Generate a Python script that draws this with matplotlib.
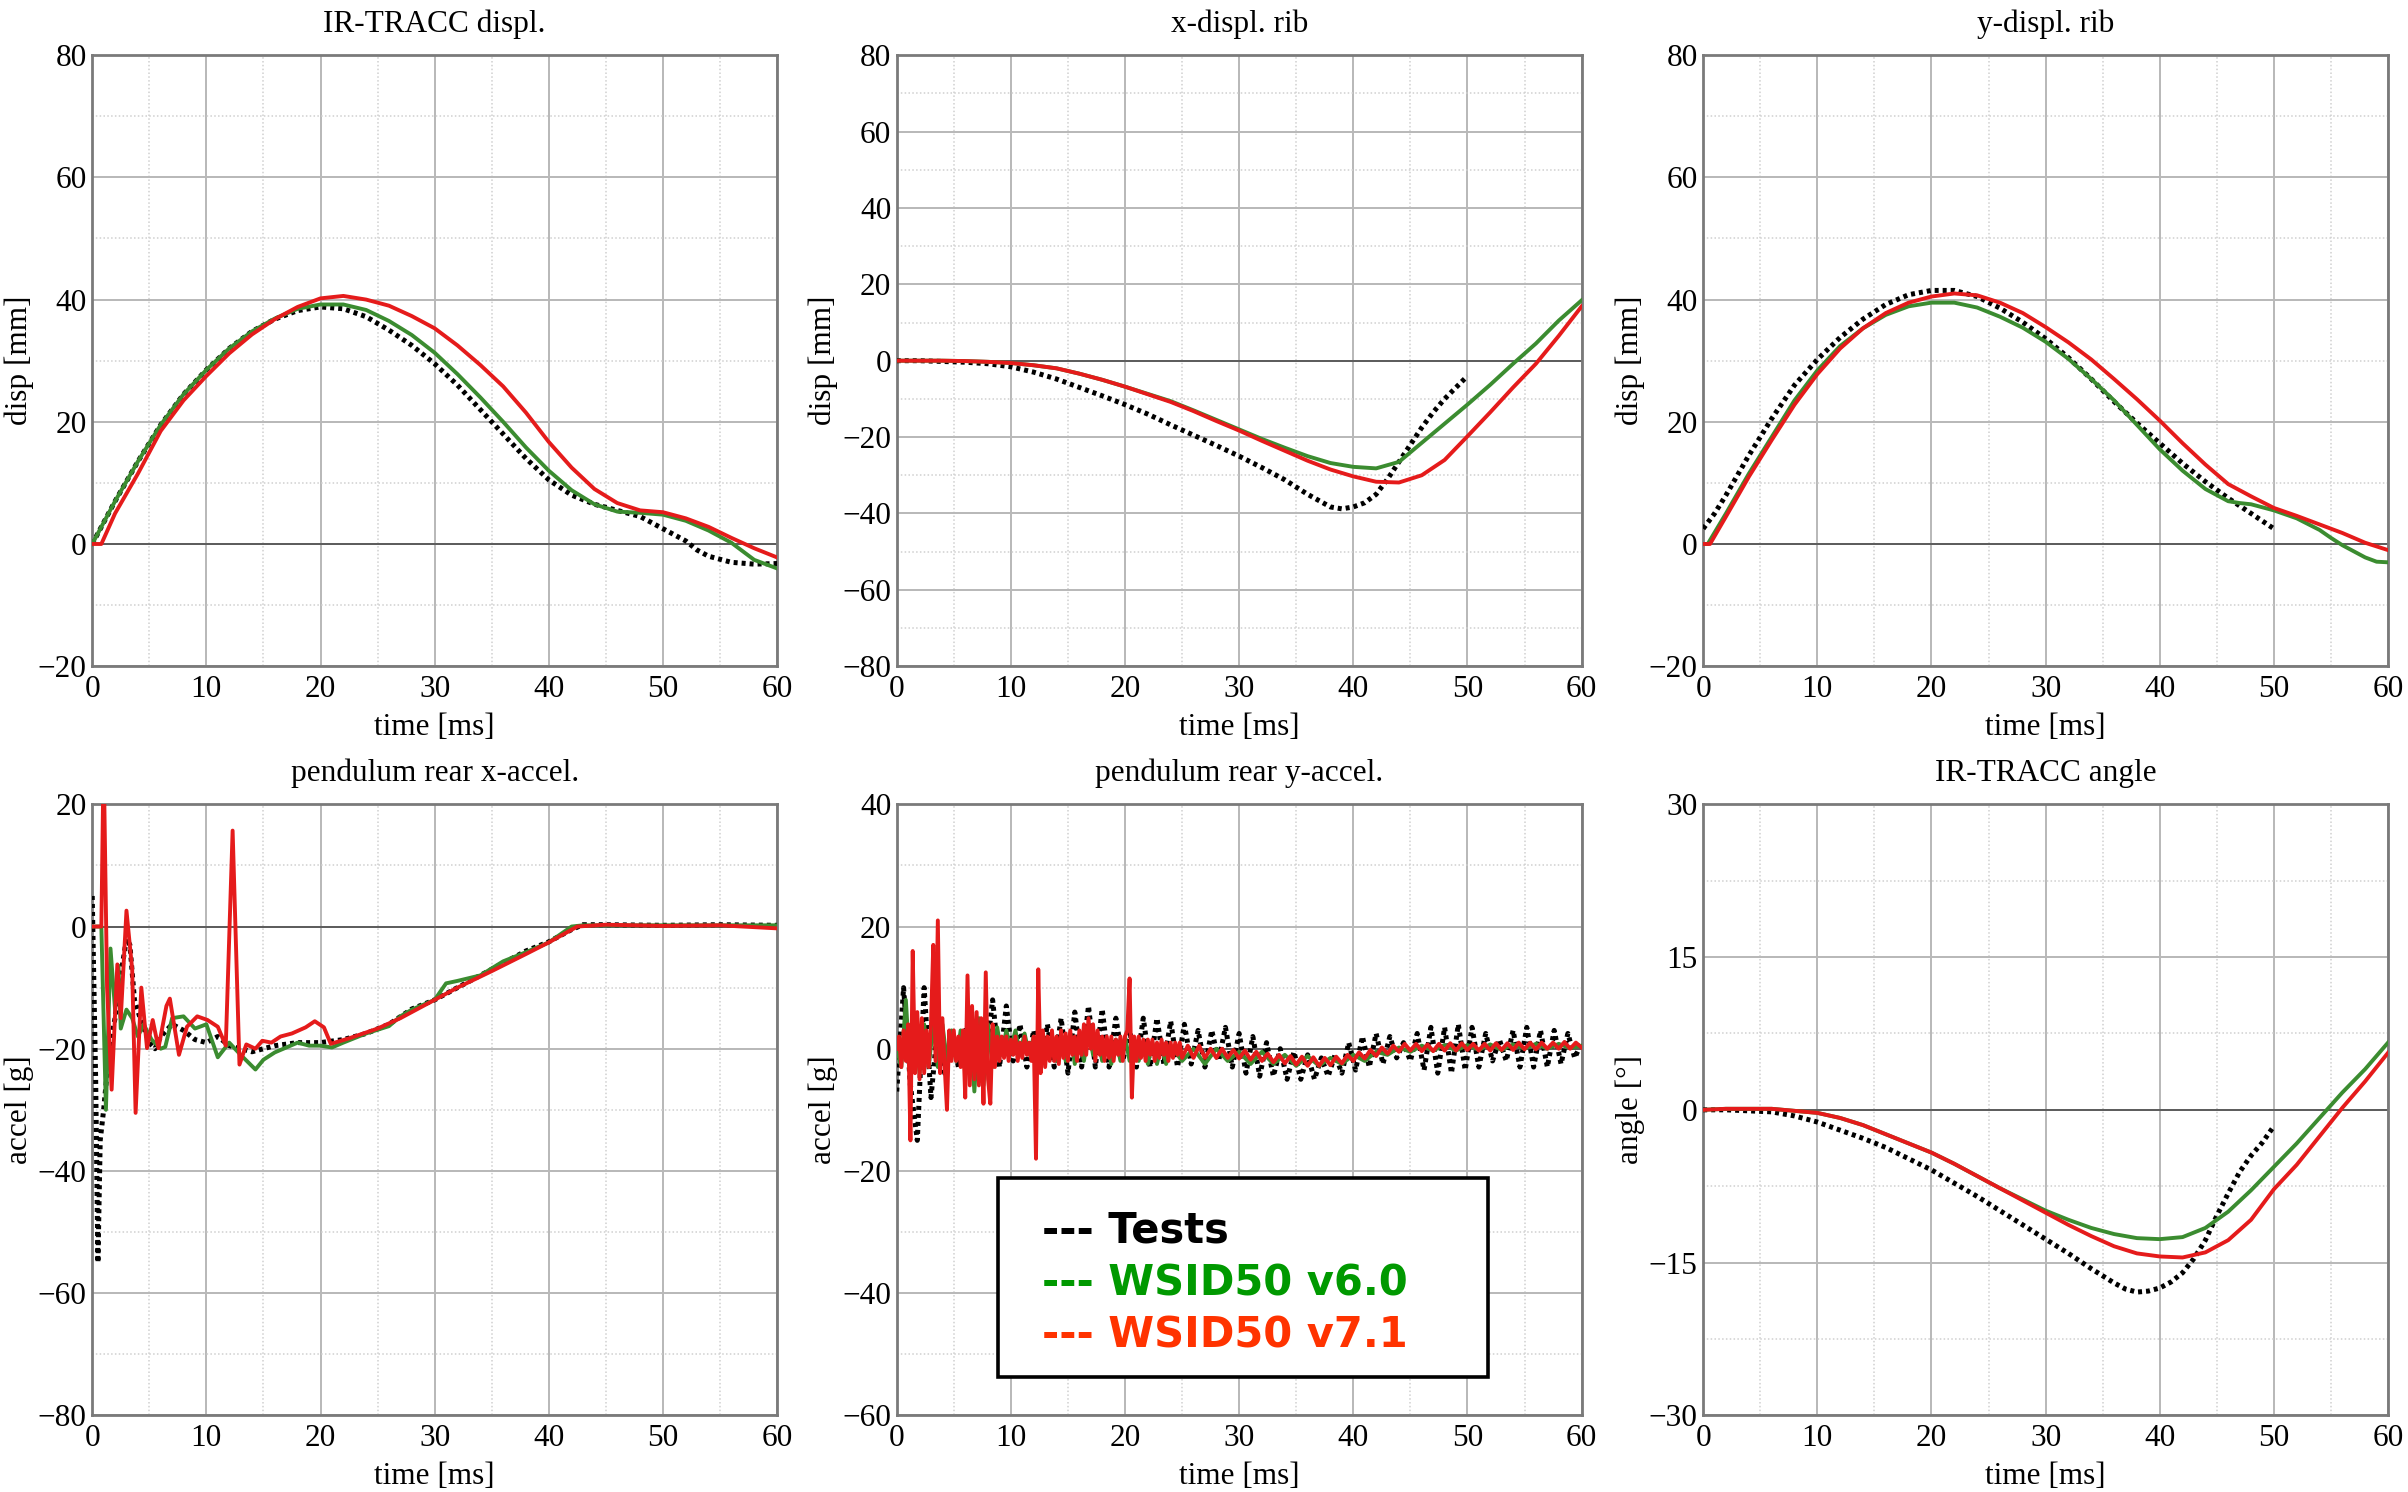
import numpy as np
import matplotlib
matplotlib.use("Agg")
import matplotlib.pyplot as plt
from matplotlib.patches import Rectangle
from matplotlib.ticker import MultipleLocator

plt.rcParams['font.family'] = ['Liberation Serif', 'DejaVu Serif']

#############################################################################
# Data
#############################################################################

# IR-TRACC displ. [mm]
disp_t_test = [0, 1, 2, 4, 6, 8, 10, 12, 14, 16, 18, 20, 22, 24, 26, 28, 30, 32, 34, 36,
               38, 40, 42, 44, 46, 48, 50, 52, 53, 54, 56, 58, 60]
disp_test = [0, 3.5, 7, 13.5, 19.5, 24.5, 28.5, 32, 34.8, 36.8, 38.2, 38.8, 38.5, 37.2, 35,
             32.5, 29.5, 26, 22, 18, 14, 10.5, 8, 6.5, 5.5, 4.5, 2.5, 0.5, -1, -2, -3,
             -3.3, -3.2]
disp_v6 = [0, 3.5, 7, 13.5, 19.5, 24.5, 28.5, 32, 34.8, 36.9, 38.5, 39.2, 39.2, 38.3, 36.5,
           34.2, 31.3, 27.8, 24, 20, 15.8, 12, 8.8, 6.5, 5.3, 5.1, 4.8, 3.8, 3, 2.2, 0.2,
           -2.6, -4]
disp_t_v7 = [0, 0.8, 2, 4, 6, 8, 10, 12, 14, 16, 18, 20, 22, 24, 26, 28, 30, 32, 34, 36,
             38, 40, 42, 44, 46, 48, 50, 52, 54, 56, 58, 60]
disp_v7 = [0, 0, 5, 11.5, 18.5, 23.5, 27.5, 31.2, 34.3, 36.8, 38.8, 40.2, 40.6, 40, 39,
           37.3, 35.3, 32.5, 29.3, 25.8, 21.5, 16.7, 12.5, 9, 6.7, 5.5, 5.2, 4.2, 2.8, 1,
           -0.7, -2.2]

# x-displ. rib [mm]
xrib_t_test = [0, 2, 4, 6, 8, 10, 12, 14, 16, 18, 20, 22, 24, 26, 28, 30, 32, 34, 36, 38,
               39, 40, 41, 42, 43, 44, 45, 46, 47, 48, 49, 50]
xrib_test = [0, 0, -0.2, -0.4, -0.8, -1.6, -3, -4.8, -7, -9.2, -11.5, -14, -16.8, -19.5,
             -22.2, -25, -28, -31.2, -35, -38.3, -38.8, -38.3, -37.2, -35, -31, -26.5, -22,
             -17.5, -13.5, -10, -7, -4]
xrib_t_sim = [0, 2, 4, 6, 8, 10, 12, 14, 16, 18, 20, 22, 24, 26, 28, 30, 32, 34, 36, 38,
              40, 42, 44, 46, 48, 50, 52, 54, 56, 58, 60]
xrib_v6 = [0, 0, 0, -0.1, -0.3, -0.6, -1.2, -2, -3.4, -5, -6.8, -8.7, -10.6, -13, -15.5,
           -18, -20.5, -22.8, -25, -26.8, -27.8, -28.2, -26.5, -21.5, -16.5, -11.5, -6.3,
           -0.8, 4.5, 10.5, 15.8]
xrib_v7 = [0, 0, 0, -0.1, -0.3, -0.6, -1.2, -2, -3.4, -5, -6.8, -8.8, -10.8, -13.2, -15.8,
           -18.3, -21, -23.6, -26.2, -28.5, -30.3, -31.7, -31.9, -30, -26, -19.8, -13.5,
           -7, -0.8, 6.5, 14.2]

# y-displ. rib [mm]
yrib_t_test = [0, 1, 2, 4, 6, 8, 10, 12, 14, 16, 18, 20, 22, 24, 26, 28, 30, 32, 34, 36,
               38, 40, 42, 44, 46, 48, 50]
yrib_test = [2.5, 5, 8, 14.5, 20.5, 26, 30.2, 33.8, 36.8, 39.2, 40.8, 41.5, 41.5, 40.5,
             38.6, 36.3, 33.6, 30.5, 27, 23.3, 19.8, 16.5, 13.2, 10.2, 7.5, 5, 2.5]
yrib_t_v6 = [0, 0.4, 2, 4, 6, 8, 10, 12, 14, 16, 18, 20, 22, 24, 26, 28, 30, 32, 34, 36,
             38, 40, 42, 44, 46, 47, 48, 50, 52, 54, 55, 56, 58, 59, 60]
yrib_v6 = [0, 0, 5, 11.5, 17.5, 23.5, 28.4, 32.4, 35.3, 37.5, 38.9, 39.5, 39.5, 38.7, 37.2,
           35.4, 33.1, 30.3, 27, 23.5, 19.5, 15.5, 12, 9, 7, 6.7, 6.5, 5.5, 4.2, 2.3, 1,
           -0.2, -2.2, -2.9, -3]
yrib_t_v7 = [0, 0.6, 2, 4, 6, 8, 10, 12, 14, 16, 18, 20, 22, 24, 26, 28, 30, 32, 34, 36,
             38, 40, 42, 44, 46, 48, 50, 52, 54, 56, 58, 60]
yrib_v7 = [0, 0, 4.5, 11, 17, 22.8, 27.8, 32, 35.3, 37.8, 39.5, 40.5, 41, 40.7, 39.5, 37.8,
           35.5, 33, 30.2, 27, 23.7, 20.2, 16.5, 13, 9.8, 7.8, 5.9, 4.6, 3.2, 1.8, 0.2, -1]

# pendulum rear x-accel. [g]
xacc_t_test = [0, 0.1, 0.2, 0.3, 0.4, 0.5, 0.6, 0.7, 1.0, 1.5, 2.0, 2.5, 3.0, 3.3, 3.7,
               4.2, 5.0, 5.5, 6.0, 7.0, 8.0, 9.0, 10.0, 11.0, 12.0, 13.0, 14.0, 15.0,
               16.0, 18.0, 20.0, 22.0, 24.0, 26.0, 28.0, 30.0, 32.0, 34.0, 36.0, 38.0,
               40.0, 42.0, 43.0, 45.0, 50.0, 55.0, 60.0]
xacc_test = [5, -5, -15, -25, -40, -55, -45, -35, -30, -20, -15, -8, -2, -3, -12, -15, -19,
             -20, -18, -16, -17, -18.5, -19, -18, -19.5, -20, -20.5, -20, -19.5, -19, -19,
             -18.5, -17.5, -16, -13.5, -12, -10, -8, -6, -4, -2.5, -0.5, 0.3, 0.3, 0.2,
             0.3, 0.2]
xacc_t_v6 = [0, 0.8, 1.2, 1.6, 2.0, 2.3, 2.5, 3.0, 3.5, 4.0, 4.5, 5.2, 6.0, 6.4, 7.0, 8.0,
             9.0, 10.0, 11.0, 12.0, 13.0, 14.3, 15.0, 16.0, 17.0, 18.0, 19.0, 20.0, 21.0,
             22.0, 24.0, 26.0, 27.0, 28.0, 30.0, 31.0, 32.0, 34.0, 36.0, 38.0, 40.0, 42.0,
             43.0, 50.0, 60.0]
xacc_v6 = [0, 0, -30, -3.6, -13.6, -6.4, -16.7, -13.6, -15, -18, -16, -18.5, -20, -19.7,
           -15, -14.7, -16.7, -16, -21.4, -19, -21, -23.4, -21.8, -20.6, -19.8, -19, -19.5,
           -19.5, -19.8, -19, -17.5, -16.3, -14.7, -13.6, -12, -9.3, -8.9, -8, -5.7, -4.2,
           -2.6, 0, 0.2, 0.2, 0.2]
xacc_t_v7 = [0, 0.8, 1.0, 1.3, 1.7, 2.2, 2.5, 3.0, 3.5, 3.8, 4.3, 4.8, 5.3, 5.8, 6.5, 6.8,
             7.6, 8.3, 9.2, 10.1, 11.0, 11.7, 12.3, 12.9, 13.5, 14.3, 14.9, 15.7, 16.5,
             17.5, 18.7, 19.5, 20.3, 20.9, 22.5, 25.0, 27.0, 30.0, 32.0, 35.0, 38.0, 40.0,
             42.5, 45.0, 50.0, 55.0, 60.0]
xacc_v7 = [0, 0, 28, -10, -26.7, -6.2, -15, 2.6, -7, -30.5, -10, -19.9, -15.3, -19.9, -13,
           -11.8, -21, -16.4, -14.7, -15.3, -16.4, -19.5, 15.7, -22.6, -19.3, -20, -18.7,
           -19, -18, -17.5, -16.5, -15.5, -16.5, -19.2, -18.3, -16.7, -15, -12, -10, -7.3,
           -4.5, -2.6, 0, 0.3, 0.1, 0.2, -0.3]

# pendulum rear y-accel. [g]  (sampled: tests every 0.6 ms, v6.0 every 0.4 ms then 1 ms,
# v7.1 every 0.2 ms then 0.5 ms)
yacc_test = [-7, 10, -6, -15, 10, -8, 4, -4, 3, -3, 3, -4, 4, -2, 8, -3, 7, -2, 4, -3, 3,
             -3, 4, -3, 5, -4, 6, -3, 7, -3, 6.5, -3, 5, -2, 3, -3, 5, -3, 5, -2.5, 4.5, -3,
             4, -2.5, 3, -3, 3, -2, 3.5, -3, 2.5, -4, 2, -4.5, 1, -4.5, 0, -5, -0.5, -5, -1,
             -5, -1.5, -4.5, -1, -4, 1, -3.5, 2, -3, 2.5, -2.5, 2, -1.5, 1, -2, 2.5, -3.5,
             3.5, -4, 3.5, -4, 4, -3.5, 3.5, -3, 2.5, -2, 1.5, -2, 3, -3, 3.5, -3, 3, -3, 3,
             -2.5, 2.5, -1.5, 1]
yacc_v6_early = [0, -3, 8, -5, 5, -4, 4, -3, 4, -3, 4, -2, 3, -2, 3, -4, 5, -7, 5, -6, 4,
                 -3, 3.5, -1, 3, 0, 3, -1, 2.5, -1, 2, -2, 2.5, -1.5, 2, -2, 2, -2, 2.5,
                 -2.5, 2, -2, 3, -1, 2, -2, 1.5, -2.5, 1.5, -2, 2, -2, 1.5, -2, 1, -2.5, 1,
                 -2.5, 0.5, -2.5, 0.5]
yacc_v6_late = [-2, 0, -2.5, 0, -2, -0.5, -2.5, -0.5, -2.5, -1, -2.8, -1.2, -2.8, -1.5,
                -2.5, -1, -2, -0.5, -1, 0.2, -0.5, 0.5, -0.3, 0.6, -0.3, 0.6, -0.2, 0.7,
                -0.2, 0.7, 0, 0.8, 0, 0.8, 0.1, 0.5]
yacc_v7_early = [0, 2, -3, 3, -2, 4, -15, 16, -4, 6, -5, 5, -4, 3, -3, 4, 17, -2, 21, -4, 5,
                 -3, -10, 3, -2, 3, -2, 2, -3, 3, -8, 12, -6, 7, -5, 6, -6, 5, -9, 12.5, -5,
                 -9, 4, -3, 2, -2, 2, -1.5, 2, -2, 1.5, -1, 2, -2, 1, -1.5, 2, -1, 1, -2, 2,
                 -18, 13, -4, 3, -3, 2, -2, 3, -2, 2, -2.5, 3, -1.5, 2.5, -2, 3, -1, 2, -2, 3,
                 -1, 4, -1, 5, 0, 4, -2, 3, -1, 2, -2, 2, -1.5, 2, -2, 1.5, -1, 2, -2, 2, 3,
                 11.5, -8, 2, -2, 2, -1.5, 1.5, -2, 1.5, -1, 1.5, -2, 1, -1.5, 1.5, -1, 1, -2,
                 1, -1.5, 1, -1, 1, -1.5]
yacc_v7_late = [0.5, -1.5, 0.5, -1.5, 0, -1.5, 0, -1.5, -0.2, -1.6, -0.3, -1.8, -0.5, -2,
                -0.8, -2.2, -1, -2.4, -1.2, -2.6, -1.3, -2.8, -1.4, -2.8, -1.5, -2.7, -1.3,
                -2.4, -1, -2, -0.6, -1.6, -0.2, -1.2, 0.2, -0.8, 0.5, -0.5, 0.8, -0.3, 0.8,
                -0.4, 0.7, -0.4, 0.8, -0.3, 0.9, -0.3, 0.9, -0.2, 0.8, -0.3, 0.8, -0.3, 0.9,
                -0.2, 0.9, -0.2, 1.0, -0.1, 1.0, -0.1, 1.0, 0, 1.0, 0, 1.1, 0, 1.0, 0.2]

# IR-TRACC angle [deg]
ang_t_test = [0, 2, 4, 6, 8, 10, 12, 14, 16, 18, 20, 22, 24, 26, 28, 30, 32, 34, 36, 37,
              38, 39, 40, 41, 42, 43, 44, 45, 46, 47, 48, 49, 50]
ang_test = [0, 0, -0.1, -0.2, -0.6, -1.2, -2, -2.8, -3.7, -4.8, -5.9, -7.2, -8.5, -9.9,
            -11.3, -12.7, -14.1, -15.6, -17, -17.6, -17.9, -17.8, -17.5, -16.9, -16, -14.6,
            -12.8, -10.4, -8.2, -6.1, -4.5, -3.2, -1.6]
ang_t_sim = [0, 2, 4, 6, 8, 10, 12, 14, 16, 18, 20, 22, 24, 26, 28, 30, 32, 34, 36, 38, 40,
             42, 44, 46, 48, 50, 52, 54, 56, 58, 60]
ang_v6 = [0, 0.1, 0.1, 0.1, -0.1, -0.3, -0.8, -1.5, -2.4, -3.3, -4.2, -5.3, -6.5, -7.7,
          -8.8, -9.9, -10.8, -11.6, -12.2, -12.6, -12.7, -12.5, -11.6, -10, -7.9, -5.6,
          -3.3, -0.8, 1.7, 4, 6.6]
ang_v7 = [0, 0.1, 0.1, 0.1, -0.1, -0.3, -0.8, -1.5, -2.4, -3.3, -4.2, -5.3, -6.5, -7.7,
          -8.9, -10.1, -11.3, -12.4, -13.4, -14.1, -14.4, -14.5, -14, -12.8, -10.8, -7.8,
          -5.4, -2.6, 0.2, 2.8, 5.6]

legend_labels = ["Tests", "WSID50 v6.0", "WSID50 v7.1"]

#############################################################################
# Styles
#############################################################################

C_TEST = "black"
C_V6 = "#3b8c30"
C_V7 = "#e51b1b"
LEG_COLORS = ["#000000", "#009900", "#ff3300"]
TEST_STYLE = dict(color=C_TEST, lw=3.6, linestyle=(0, (0.8, 0.8)), zorder=3)
V6_STYLE = dict(color=C_V6, lw=2.8, zorder=4)
V7_STYLE = dict(color=C_V7, lw=2.8, zorder=5)

FS = 22.5

fig = plt.figure(figsize=(24.08, 14.92), dpi=100)

lefts = [0.0383, 0.3724, 0.7073]
bottoms = [0.5535, 0.0514]
W, H = 0.2844, 0.4095


def make_axes(row, col, title, ylabel, ylim, ystep):
    ax = fig.add_axes([lefts[col], bottoms[row], W, H])
    ax.set_xlim(0, 60)
    ax.set_ylim(*ylim)
    ax.xaxis.set_major_locator(MultipleLocator(10))
    ax.xaxis.set_minor_locator(MultipleLocator(5))
    ax.yaxis.set_major_locator(MultipleLocator(ystep))
    ax.yaxis.set_minor_locator(MultipleLocator(ystep / 2))
    ax.grid(which='major', color='#b8b8b8', lw=1.4)
    ax.grid(which='minor', color='#d0d0d0', lw=1.1, linestyle=(0, (1, 1.5)))
    ax.set_axisbelow(True)
    ax.axhline(0, color='#555555', lw=1.3, zorder=1.5)
    ax.tick_params(which='both', length=0, labelsize=FS)
    ax.tick_params(axis='x', pad=6)
    ax.tick_params(axis='y', pad=4)
    for sp in ax.spines.values():
        sp.set_color('#7a7a7a')
        sp.set_linewidth(2)
    ax.set_title(title, fontsize=FS, pad=17)
    ax.set_xlabel("time [ms]", fontsize=FS, labelpad=7)
    ax.set_ylabel(ylabel, fontsize=FS, labelpad=3)
    return ax


ax = make_axes(0, 0, "IR-TRACC displ.", "disp [mm]", (-20, 80), 20)
ax.plot(disp_t_test, disp_test, **TEST_STYLE)
ax.plot(disp_t_test, disp_v6, **V6_STYLE)
ax.plot(disp_t_v7, disp_v7, **V7_STYLE)

ax = make_axes(0, 1, "x-displ. rib", "disp [mm]", (-80, 80), 20)
ax.plot(xrib_t_test, xrib_test, **TEST_STYLE)
ax.plot(xrib_t_sim, xrib_v6, **V6_STYLE)
ax.plot(xrib_t_sim, xrib_v7, **V7_STYLE)

ax = make_axes(0, 2, "y-displ. rib", "disp [mm]", (-20, 80), 20)
ax.plot(yrib_t_test, yrib_test, **TEST_STYLE)
ax.plot(yrib_t_v6, yrib_v6, **V6_STYLE)
ax.plot(yrib_t_v7, yrib_v7, **V7_STYLE)

ax = make_axes(1, 0, "pendulum rear x-accel.", "accel [g]", (-80, 20), 20)
ax.plot(xacc_t_test, xacc_test, **TEST_STYLE)
ax.plot(xacc_t_v6, xacc_v6, **V6_STYLE)
ax.plot(xacc_t_v7, xacc_v7, **V7_STYLE)

ax = make_axes(1, 1, "pendulum rear y-accel.", "accel [g]", (-60, 40), 20)
t_test = 0.6 * np.arange(len(yacc_test))
t_v6 = np.concatenate([0.4 * np.arange(len(yacc_v6_early)),
                       25 + 1.0 * np.arange(len(yacc_v6_late))])
t_v7 = np.concatenate([0.2 * np.arange(len(yacc_v7_early)),
                       25.5 + 0.5 * np.arange(len(yacc_v7_late))])
ax.plot(t_test, yacc_test, **TEST_STYLE)
ax.plot(t_v6, yacc_v6_early + yacc_v6_late, **V6_STYLE)
ax.plot(t_v7, yacc_v7_early + yacc_v7_late, **V7_STYLE)

ax = make_axes(1, 2, "IR-TRACC angle", "angle [°]", (-30, 30), 15)
ax.plot(ang_t_test, ang_test, **TEST_STYLE)
ax.plot(ang_t_sim, ang_v6, **V6_STYLE)
ax.plot(ang_t_sim, ang_v7, **V7_STYLE)

# legend box drawn as framed text, as in the original figure
fig.patches.append(Rectangle((0.4145, 0.0771), 0.2034, 0.1334, transform=fig.transFigure,
                             facecolor='white', edgecolor='black', lw=2.6, zorder=10))
for i, (lab, col) in enumerate(zip(legend_labels, LEG_COLORS)):
    fig.text(0.4327, 0.1669 - i * 0.0349, "--- " + lab, color=col, fontsize=30,
             fontweight='bold', family=['DejaVu Sans'], va='baseline', ha='left',
             zorder=11)

plt.savefig("out.png", dpi=100)
